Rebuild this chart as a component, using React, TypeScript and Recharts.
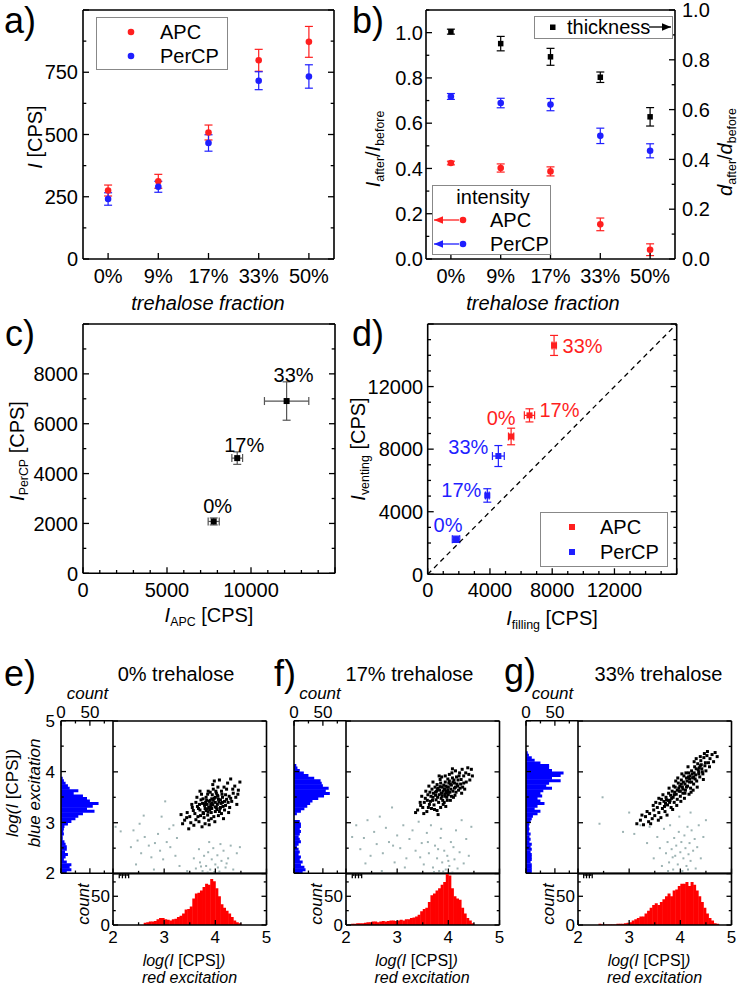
import React from 'react';
import { ScatterChart, Scatter, BarChart, Bar, XAxis, YAxis, ErrorBar } from 'recharts';

const FONT = '"Liberation Sans", Arial, Helvetica, sans-serif';
const RED = '#ff1f1f';
const BLUE = '#1f1fff';
const GREY = '#9db3b3';

// ---------- a) / b) : vs trehalose fraction ----------
const fractions = ['0%', '9%', '17%', '33%', '50%'];
const fracIdx = [0, 1, 2, 3, 4];
const apcIntensity = [275, 312, 508, 798, 872];
const apcIntensityErr = [22, 28, 30, 44, 62];
const percpIntensity = [241, 290, 466, 716, 733];
const percpIntensityErr = [25, 22, 33, 36, 47];

const apcRatio = [0.424, 0.402, 0.387, 0.153, 0.041];
const apcRatioErr = [0.008, 0.018, 0.02, 0.028, 0.026];
const percpRatio = [0.718, 0.689, 0.682, 0.544, 0.478];
const percpRatioErr = [0.013, 0.021, 0.027, 0.034, 0.031];
const thicknessRatio = [0.913, 0.865, 0.812, 0.73, 0.571];
const thicknessRatioErr = [0.01, 0.029, 0.034, 0.021, 0.037];

const aTicks = [0, 125, 250, 375, 500, 625, 750, 875, 1000];
const aMajor = [0, 250, 500, 750, 1000];
const aLabels = [0, 250, 500, 750];
const bLeftTicks = [0, 0.1, 0.2, 0.3, 0.4, 0.5, 0.6, 0.7, 0.8, 0.9, 1.0, 1.1];
const bRightTicks = [0, 0.1, 0.2, 0.3, 0.4, 0.5, 0.6, 0.7, 0.8, 0.9, 1.0];
const bLabels = [0, 0.2, 0.4, 0.6, 0.8, 1.0];

// ---------- c) / d) ----------
const cdTags = ['0%', '17%', '33%'];
const cApc = [7780, 9180, 12120];
const cApcErr = [330, 320, 1320];
const cPercp = [2080, 4620, 6910];
const cPercpErr = [140, 250, 770];
const cXTicks = [0, 1000, 2000, 3000, 4000, 5000, 6000, 7000, 8000, 9000, 10000, 11000, 12000, 13000, 14000, 15000];
const cXLabels = [0, 5000, 10000];
const cXMajor = [0, 5000, 10000, 15000];
const cYTicks = [0, 1000, 2000, 3000, 4000, 5000, 6000, 7000, 8000, 9000, 10000];
const cYLabels = [0, 2000, 4000, 6000, 8000];
const cYMajor = [0, 2000, 4000, 6000, 8000, 10000];

const dApcFill = [5360, 6540, 8120];
const dApcFillErr = [170, 330, 130];
const dApcVent = [8810, 10160, 14630];
const dApcVentErr = [530, 420, 640];
const dPercpFill = [1820, 3830, 4540];
const dPercpFillErr = [240, 120, 380];
const dPercpVent = [2240, 5040, 7560];
const dPercpVentErr = [200, 430, 670];
const identity = [0, 16000];
const dTicks = [0, 1000, 2000, 3000, 4000, 5000, 6000, 7000, 8000, 9000, 10000, 11000, 12000, 13000, 14000, 15000, 16000];
const dLabels = [0, 4000, 8000, 12000];
const dMajor = [0, 4000, 8000, 12000, 16000];

// ---------- e) f) g) : histograms (bins of 0.05 from 2.0) and scatter ----------
const BIN_LO = 2.0;
const BIN_W = 0.05;
const logTicks = [2, 2.5, 3, 3.5, 4, 4.5, 5];
const logLabels = [2, 3, 4, 5];
const countTicks = [0, 25, 50, 75];
const countLabels = [0, 50];

const eBlue = [10, 18, 15, 18, 10, 5, 8, 12, 7, 10, 10, 8, 6, 3, 3, 5, 4, 5, 6, 12, 18, 25, 30, 38, 58, 45, 55, 65, 50, 45, 38, 22, 30, 15, 12, 8, 5, 3];
const eRed = [0, 0, 0, 0, 0, 0, 0, 0, 0, 0, 0, 0, 4, 5, 6, 6, 7, 10, 12, 12, 10, 9, 8, 10, 11, 14, 16, 20, 27, 28, 32, 46, 55, 56, 60, 66, 72, 70, 80, 76, 64, 50, 36, 30, 25, 20, 14, 8, 5, 3];
const fBlue = [15, 20, 18, 12, 15, 10, 12, 8, 10, 8, 5, 8, 12, 10, 8, 10, 12, 10, 12, 12, 10, 0, 0, 5, 12, 18, 23, 28, 32, 42, 52, 62, 55, 60, 50, 48, 46, 35, 25, 17, 10, 6, 4];
const fRed = [0, 0, 2, 2, 3, 3, 3, 4, 5, 5, 6, 6, 5, 6, 7, 6, 7, 8, 8, 7, 8, 9, 8, 10, 10, 12, 13, 15, 18, 24, 28, 30, 40, 52, 55, 60, 64, 70, 75, 90, 86, 64, 50, 46, 44, 30, 20, 12, 8, 3];
const gBlue = [10, 10, 10, 10, 8, 10, 10, 10, 8, 10, 8, 10, 6, 8, 6, 8, 5, 6, 5, 6, 8, 10, 12, 20, 25, 15, 20, 32, 25, 20, 28, 25, 30, 45, 35, 40, 60, 45, 60, 65, 45, 40, 40, 25, 15, 10, 5, 3];
const gRed = [0, 0, 0, 0, 0, 0, 0, 0, 2, 1, 1, 1, 1, 1, 1, 2, 2, 2, 3, 4, 5, 8, 10, 12, 15, 15, 20, 25, 30, 35, 38, 35, 40, 45, 50, 55, 50, 60, 62, 68, 72, 72, 75, 68, 75, 70, 60, 50, 40, 30, 20, 12, 8, 3, 2];

// flat x,y pairs (log red, log blue)
const eCloud = [
  3.95, 3.35, 3.88, 3.42, 4.02, 3.3, 3.8, 3.28, 4.1, 3.45, 3.92, 3.2, 4.05, 3.52, 3.75, 3.38, 4.15, 3.32, 3.98, 3.48,
  3.85, 3.15, 4.2, 3.55, 3.7, 3.25, 3.9, 3.6, 4.08, 3.22, 3.82, 3.5, 4.25, 3.4, 3.65, 3.32, 4.0, 3.4, 3.93, 3.28,
  3.78, 3.1, 4.12, 3.62, 3.6, 3.18, 4.3, 3.48, 3.87, 3.05, 4.18, 3.25, 3.72, 3.45, 4.05, 3.7, 3.55, 3.3, 4.35, 3.58,
  3.97, 3.12, 3.84, 3.36, 4.11, 3.38, 3.76, 3.2, 4.22, 3.66, 3.68, 3.02, 4.02, 3.58, 3.9, 3.44, 3.62, 3.4, 4.28, 3.3,
  3.5, 3.12, 4.4, 3.5, 3.95, 3.75, 3.8, 2.98, 4.14, 3.5, 3.58, 2.95, 4.45, 3.64, 3.45, 3.2, 3.99, 3.02, 4.24, 3.78,
  3.73, 3.56, 4.06, 3.14, 3.86, 3.62, 4.32, 3.42, 3.66, 3.12, 3.94, 3.55, 4.18, 3.42, 3.79, 3.34, 4.04, 3.36, 3.89, 3.26,
  3.4, 3.05, 4.38, 3.72, 3.7, 3.62, 4.08, 3.84, 3.52, 3.0, 4.26, 3.2, 3.96, 3.66, 3.83, 3.44, 4.16, 3.08, 3.64, 3.5,
  3.48, 2.88, 4.42, 3.36, 3.91, 3.32, 3.77, 3.18, 4.09, 3.28, 3.36, 2.98, 4.48, 3.8, 4.0, 3.22, 3.74, 2.92, 4.2, 3.34,
  3.81, 3.4, 3.96, 3.44, 4.03, 3.26, 3.87, 3.3, 4.13, 3.56, 3.69, 3.36, 4.27, 3.52, 3.57, 3.24, 4.01, 3.62, 3.92, 3.08,
  4.34, 3.66, 3.62, 3.06, 4.1, 3.3, 3.85, 3.56, 4.22, 3.46, 3.44, 3.1, 4.44, 3.56, 3.98, 3.82, 3.71, 3.14, 4.06, 3.46,
  3.54, 3.36, 4.3, 3.86, 3.33, 3.16, 4.17, 3.7, 3.88, 2.96, 4.0, 3.5, 3.82, 3.24, 4.12, 3.18, 3.94, 3.38, 3.67, 3.28,
  3.91, 3.37, 4.07, 3.41, 3.84, 3.27, 4.0, 3.31, 3.76, 3.47, 4.14, 3.4, 3.93, 3.47, 3.86, 3.21, 4.04, 3.54, 3.8, 3.36,
];
const eStray = [
  2.05, 2.92, 2.15, 2.83, 2.35, 2.52, 2.48, 2.65, 2.55, 2.4, 2.62, 2.72, 2.7, 2.55, 2.75, 2.32, 2.82, 2.6, 2.88, 2.78,
  2.92, 2.45, 2.98, 2.28, 3.05, 2.62, 3.1, 2.88, 3.12, 2.52, 3.18, 2.95, 3.22, 2.35, 3.02, 3.42, 2.6, 3.14, 3.25, 2.7,
  2.45, 2.18, 2.8, 2.08, 3.3, 2.15, 3.45, 2.05, 3.62, 2.1, 3.7, 2.22, 3.75, 2.05, 3.78, 2.35, 3.82, 2.15, 3.86, 2.42,
  3.9, 2.08, 3.93, 2.28, 3.96, 2.5, 4.0, 2.18, 4.04, 2.36, 4.08, 2.04, 4.12, 2.25, 4.16, 2.45, 4.2, 2.12, 4.25, 2.3,
  4.3, 2.55, 4.35, 2.08, 4.42, 2.4, 4.48, 2.52, 3.88, 2.62, 4.1, 2.58, 3.68, 2.48, 3.58, 2.3, 2.95, 3.12, 3.85, 2.02,
  4.05, 2.12, 3.98, 2.03, 4.22, 2.2, 3.72, 2.14, 2.4, 2.85, 2.52, 2.98,
];
const fCloud = [
  3.9, 3.62, 3.98, 3.7, 3.82, 3.55, 4.05, 3.66, 3.75, 3.6, 4.12, 3.78, 3.86, 3.48, 3.94, 3.8, 4.0, 3.55, 3.7, 3.5,
  4.18, 3.72, 3.8, 3.68, 4.08, 3.88, 3.65, 3.42, 4.25, 3.85, 3.92, 3.4, 3.78, 3.75, 4.15, 3.6, 3.6, 3.55, 4.02, 3.95,
  3.88, 3.7, 4.3, 3.92, 3.72, 3.35, 4.1, 3.5, 3.55, 3.48, 3.96, 3.58, 4.22, 3.98, 3.84, 3.85, 3.68, 3.66, 4.06, 3.74,
  3.5, 3.3, 4.35, 3.8, 3.95, 3.32, 3.76, 3.45, 4.2, 3.64, 3.62, 3.72, 4.14, 4.02, 3.87, 3.58, 3.99, 3.86, 3.73, 3.26,
  4.4, 3.95, 3.45, 3.4, 4.28, 3.7, 3.58, 3.22, 4.04, 3.44, 3.82, 3.92, 4.16, 3.9, 3.66, 3.52, 3.93, 3.66, 4.09, 3.62,
  3.4, 3.25, 4.45, 4.05, 3.79, 3.5, 4.24, 3.76, 3.56, 3.62, 4.01, 3.78, 3.89, 3.44, 4.32, 3.66, 3.7, 3.8, 3.97, 3.5,
  3.52, 3.18, 4.38, 4.08, 3.85, 3.3, 4.12, 3.68, 3.63, 3.36, 4.07, 3.98, 3.77, 3.62, 4.26, 3.58, 3.91, 3.74, 3.83, 3.64,
  3.46, 3.34, 4.42, 3.84, 3.67, 3.28, 4.19, 3.84, 3.94, 3.92, 3.74, 3.7, 4.03, 3.6, 3.59, 3.44, 4.13, 3.54, 3.88, 3.52,
  3.36, 3.2, 4.34, 3.98, 3.81, 3.4, 4.0, 3.7, 3.96, 3.62, 4.21, 3.92, 3.71, 3.58, 3.85, 3.78, 4.11, 3.84, 3.64, 3.6,
  3.53, 3.4, 4.47, 3.92, 3.78, 3.24, 4.27, 4.05, 3.93, 3.56, 4.06, 3.52, 3.61, 3.3, 4.17, 3.76, 3.87, 3.9, 3.98, 3.44,
  3.48, 3.52, 4.3, 3.78, 3.69, 3.44, 4.08, 4.06, 3.8, 3.16, 4.23, 3.68, 3.95, 3.72, 3.75, 3.54, 4.02, 3.82, 3.9, 3.36,
  3.92, 3.66, 4.04, 3.76, 3.86, 3.58, 3.99, 3.64, 4.14, 3.7, 3.79, 3.66, 3.94, 3.52, 4.09, 3.8, 3.84, 3.71, 4.0, 3.6,
];
const fStray = [
  2.12, 2.72, 2.2, 2.95, 2.28, 2.48, 2.35, 2.7, 2.42, 3.05, 2.48, 2.35, 2.55, 2.82, 2.6, 2.58, 2.66, 3.12, 2.72, 2.4,
  2.78, 2.9, 2.84, 2.62, 2.9, 3.3, 2.95, 2.22, 3.0, 2.75, 3.06, 2.5, 3.12, 2.95, 3.18, 2.3, 3.24, 2.68, 3.3, 2.85,
  3.36, 2.45, 3.42, 3.02, 3.48, 2.6, 3.52, 2.18, 3.58, 2.8, 3.62, 2.4, 3.66, 2.95, 3.7, 2.12, 3.74, 2.55, 3.78, 2.3,
  3.82, 2.05, 3.85, 2.7, 3.88, 2.22, 3.92, 2.45, 3.95, 2.08, 3.98, 2.35, 4.02, 2.15, 4.05, 2.62, 4.08, 2.02, 4.12, 2.28,
  4.15, 2.85, 4.18, 2.1, 4.22, 2.42, 4.26, 3.05, 4.3, 2.2, 4.35, 2.68, 4.4, 2.35, 4.45, 2.92, 3.8, 2.48, 3.9, 2.04,
  4.0, 2.25, 3.72, 2.03, 3.6, 2.62, 2.92, 2.55, 2.38, 2.2, 3.15, 2.12, 2.7, 2.05, 4.1, 2.52, 3.86, 2.88, 3.45, 2.32,
];
const gCloud = [
  3.15, 2.98, 3.22, 3.05, 3.28, 2.96, 3.32, 3.12, 3.38, 3.02, 3.4, 3.18, 3.45, 3.08, 3.48, 3.25, 3.5, 3.14, 3.55, 3.3,
  3.58, 3.2, 3.6, 3.38, 3.62, 3.1, 3.65, 3.28, 3.68, 3.42, 3.7, 3.22, 3.72, 3.5, 3.75, 3.35, 3.77, 3.58, 3.8, 3.44,
  3.82, 3.3, 3.84, 3.62, 3.86, 3.5, 3.88, 3.4, 3.9, 3.7, 3.92, 3.56, 3.94, 3.46, 3.96, 3.78, 3.98, 3.62, 4.0, 3.52,
  4.02, 3.84, 4.04, 3.7, 4.05, 3.58, 4.07, 3.92, 4.09, 3.76, 4.1, 3.64, 4.12, 3.88, 4.14, 3.72, 4.16, 3.98, 4.18, 3.8,
  4.2, 3.68, 4.22, 4.02, 4.24, 3.88, 4.26, 3.76, 4.28, 4.1, 4.3, 3.94, 4.32, 3.82, 4.34, 4.16, 4.36, 4.0, 4.38, 3.9,
  4.4, 4.22, 4.42, 4.06, 4.44, 3.96, 4.46, 4.28, 4.48, 4.12, 4.5, 4.02, 4.52, 4.32, 4.55, 4.18, 4.58, 4.26, 4.62, 4.34,
  4.65, 4.2, 4.68, 4.38, 4.72, 4.3, 3.35, 3.22, 3.52, 3.4, 3.66, 3.55, 3.74, 3.15, 3.87, 3.72, 3.93, 3.34, 4.03, 3.96,
  4.08, 3.48, 4.15, 4.1, 4.21, 3.6, 4.27, 4.2, 4.33, 3.7, 4.39, 4.3, 4.45, 3.85, 4.53, 4.4, 3.25, 3.15, 3.42, 2.98,
  3.57, 3.05, 3.78, 3.68, 3.95, 3.88, 4.11, 3.98, 4.25, 3.64, 4.37, 4.08, 4.49, 4.18, 3.63, 3.46, 3.81, 3.54, 3.99, 3.72,
  4.13, 3.82, 4.29, 3.86, 4.41, 4.14, 3.71, 3.38, 3.89, 3.6, 4.06, 3.8, 4.19, 3.92, 4.35, 4.04, 4.57, 4.1, 3.47, 3.34,
  3.85, 3.26, 4.01, 3.42, 4.17, 3.56, 4.31, 4.26, 4.47, 4.36, 3.58, 3.48, 3.76, 3.44, 3.91, 3.82, 4.23, 3.96, 4.43, 4.0,
  3.97, 3.68, 4.09, 3.58, 4.02, 3.76, 3.83, 3.48, 4.18, 3.86, 4.36, 3.96, 3.69, 3.32, 4.26, 3.9, 4.12, 3.7, 3.94, 3.64,
  4.22, 3.8, 4.05, 3.66, 4.31, 4.06, 3.88, 3.55, 4.16, 3.9, 3.79, 3.4, 4.39, 4.12, 4.0, 3.62, 4.27, 3.98, 3.73, 3.45,
];
const gStray = [
  2.42, 2.98, 2.48, 3.5, 2.88, 2.82, 3.0, 3.2, 3.1, 2.78, 3.22, 2.95, 3.35, 2.6, 3.4, 2.92, 3.48, 2.3, 3.55, 2.72,
  3.6, 2.5, 3.64, 2.15, 3.68, 2.88, 3.72, 2.4, 3.75, 2.62, 3.78, 2.22, 3.8, 2.95, 3.83, 2.48, 3.86, 2.08, 3.88, 2.7,
  3.9, 2.35, 3.92, 2.55, 3.95, 2.18, 3.97, 2.82, 4.0, 2.42, 4.02, 2.62, 4.04, 2.05, 4.06, 2.3, 4.08, 2.75, 4.1, 2.5,
  4.12, 2.15, 4.14, 2.92, 4.16, 2.38, 4.18, 2.6, 4.2, 2.25, 4.22, 2.85, 4.25, 2.45, 4.28, 2.68, 4.3, 2.1, 4.33, 2.52,
  4.36, 2.95, 4.4, 2.3, 4.45, 2.72, 4.5, 3.05, 3.98, 3.12, 4.2, 3.2, 3.85, 2.32, 4.0, 2.02, 3.76, 2.05, 4.15, 2.08,
];

// ---------- helpers ----------
const abs = (left: number, top: number): React.CSSProperties => ({ position: 'absolute', left, top });
const AXLINE = { stroke: '#000', strokeWidth: 1.6 };
// axes get a 1px box (a 0 size axis is not drawn); margins below account for it
const frameX = { type: 'number' as const, height: 1, tickSize: 0, tickMargin: 0, tickLine: false, interval: 0 as const, allowDataOverflow: true, axisLine: AXLINE };
const frameY = { type: 'number' as const, width: 1, tickSize: 0, tickMargin: 0, tickLine: false, interval: 0 as const, allowDataOverflow: true, axisLine: AXLINE };
// plot box -> chart margins, with one px of every framing axis taken off
const box = (W: number, H: number, l: number, t: number, r: number, b: number) => ({ top: t - 1, left: l - 1, right: W - r - 1, bottom: H - b - 1 });

type Side = 'bottom' | 'top' | 'left' | 'right';
const INTO: Record<Side, [number, number]> = { bottom: [0, -1], top: [0, 1], left: [1, 0], right: [-1, 0] };
const has = (arr: number[], v: number) => arr.some((m) => Math.abs(m - v) < 1e-6);

interface TickCfg { side: Side; majors: number[]; labels?: number[]; fmt?: (v: number) => string; fs?: number; off?: number; len?: number }
const tickFn = (c: TickCfg) => (p: any) => {
  const { x, y, payload } = p;
  const v = Number(payload.value);
  const big = has(c.majors, v);
  const L = (c.len ?? 6) * (big ? 1 : 0.55);
  const [dx, dy] = INTO[c.side];
  const fs = c.fs ?? 20;
  const off = c.off ?? 5;
  const lab = c.labels && has(c.labels, v) ? (c.fmt ? c.fmt(v) : String(v)) : null;
  const tp = { fontFamily: FONT, fontSize: fs, fill: '#000' };
  let t = null;
  if (lab !== null) {
    if (c.side === 'bottom') t = <text x={x} y={y + off + fs * 0.74} textAnchor="middle" {...tp}>{lab}</text>;
    else if (c.side === 'top') t = <text x={x} y={y - off} textAnchor="middle" {...tp}>{lab}</text>;
    else if (c.side === 'left') t = <text x={x - off} y={y + fs * 0.36} textAnchor="end" {...tp}>{lab}</text>;
    else t = <text x={x + off} y={y + fs * 0.36} textAnchor="start" {...tp}>{lab}</text>;
  }
  return (
    <g>
      {L > 0 && <line x1={x} y1={y} x2={x + dx * L} y2={y + dy * L} stroke="#000" strokeWidth={1.3} />}
      {t}
    </g>
  );
};

const dot = (fill: string, r = 3.3) => (p: any) => <circle cx={p.cx} cy={p.cy} r={r} fill={fill} />;
const sq = (fill: string, s = 6) => (p: any) => <rect x={p.cx - s / 2} y={p.cy - s / 2} width={s} height={s} fill={fill} />;
const sqTagged = (fill: string, pos: number[][]) => (p: any) => {
  const k = p.payload.k;
  return (
    <g>
      <rect x={p.cx - 3} y={p.cy - 3} width={6} height={6} fill={fill} />
      <text x={p.cx + pos[k][0]} y={p.cy + pos[k][1]} textAnchor="middle" dominantBaseline="central" fontFamily={FONT} fontSize={20} fill={fill}>{cdTags[k]}</text>
    </g>
  );
};

function Txt({ x, y, size = 20, italic = false, rotate = false, color = '#000', children }: any) {
  return (
    <div style={{ position: 'absolute', left: x, top: y, transform: `translate(-50%,-50%)${rotate ? ' rotate(-90deg)' : ''}`, fontSize: size, fontStyle: italic ? 'italic' : 'normal', color, whiteSpace: 'nowrap', lineHeight: 1, fontFamily: FONT }}>
      {children}
    </div>
  );
}
const Sub = ({ children }: any) => <span style={{ fontSize: '0.62em', verticalAlign: '-0.35em', fontStyle: 'normal' }}>{children}</span>;

const ErrRed = { stroke: RED, strokeWidth: 1.2, width: 4 };
const ErrBlue = { stroke: BLUE, strokeWidth: 1.2, width: 4 };
const ErrBlack = { stroke: '#000', strokeWidth: 1.2, width: 4 };

// ---------- panels ----------
function PanelA() {
  const apc = fracIdx.map((i) => ({ i, v: apcIntensity[i], e: apcIntensityErr[i] }));
  const per = fracIdx.map((i) => ({ i, v: percpIntensity[i], e: percpIntensityErr[i] }));
  return (
    <div style={abs(0, 0)}>
      <ScatterChart width={370} height={330} margin={box(370, 330, 83, 10, 334, 259)}>
        <XAxis xAxisId="b" dataKey="i" {...frameX} domain={[-0.5, 4.5]} ticks={fracIdx} tick={tickFn({ side: 'bottom', majors: fracIdx, labels: fracIdx, fmt: (v) => fractions[v], off: 9 })} />
        <XAxis xAxisId="t" orientation="top" {...frameX} domain={[-0.5, 4.5]} ticks={fracIdx} tick={tickFn({ side: 'top', majors: fracIdx })} />
        <YAxis yAxisId="l" dataKey="v" {...frameY} domain={[0, 1000]} ticks={aTicks} tick={tickFn({ side: 'left', majors: aMajor, labels: aLabels, off: 5 })} />
        <YAxis yAxisId="r" orientation="right" {...frameY} domain={[0, 1000]} ticks={aTicks} tick={tickFn({ side: 'right', majors: aMajor })} />
        <Scatter xAxisId="b" yAxisId="l" data={apc} shape={dot(RED)} isAnimationActive={false}>
          <ErrorBar dataKey="e" direction="y" {...ErrRed} />
        </Scatter>
        <Scatter xAxisId="b" yAxisId="l" data={per} shape={dot(BLUE)} isAnimationActive={false}>
          <ErrorBar dataKey="e" direction="y" {...ErrBlue} />
        </Scatter>
      </ScatterChart>
      <div style={{ position: 'absolute', left: 96, top: 17, width: 132, height: 53, border: '1px solid #888', boxSizing: 'border-box' }} />
      <svg style={{ position: 'absolute', left: 0, top: 0 }} width={370} height={80}>
        <circle cx={131} cy={32} r={3.3} fill={RED} />
        <circle cx={131} cy={56} r={3.3} fill={BLUE} />
      </svg>
      <div style={{ position: 'absolute', left: 160, top: 22, fontSize: 20, lineHeight: '20px' }}>APC</div>
      <div style={{ position: 'absolute', left: 160, top: 46, fontSize: 20, lineHeight: '20px' }}>PerCP</div>
      <Txt x={20} y={21} size={36}>a)</Txt>
      <Txt x={35} y={137} rotate><i>I</i> [CPS]</Txt>
      <Txt x={208} y={303} italic>trehalose fraction</Txt>
    </div>
  );
}

function PanelB() {
  const apc = fracIdx.map((i) => ({ i, v: apcRatio[i], e: apcRatioErr[i] }));
  const per = fracIdx.map((i) => ({ i, v: percpRatio[i], e: percpRatioErr[i] }));
  const thk = fracIdx.map((i) => ({ i, v: thicknessRatio[i], e: thicknessRatioErr[i] }));
  const f1 = (v: number) => v.toFixed(1);
  return (
    <div style={abs(360, 0)}>
      <ScatterChart width={378} height={330} margin={box(378, 330, 66, 10, 315, 259)}>
        <XAxis xAxisId="b" dataKey="i" {...frameX} domain={[-0.5, 4.5]} ticks={fracIdx} tick={tickFn({ side: 'bottom', majors: fracIdx, labels: fracIdx, fmt: (v) => fractions[v], off: 9 })} />
        <XAxis xAxisId="t" orientation="top" {...frameX} domain={[-0.5, 4.5]} ticks={fracIdx} tick={tickFn({ side: 'top', majors: fracIdx })} />
        <YAxis yAxisId="l" dataKey="v" {...frameY} domain={[0, 1.1]} ticks={bLeftTicks} tick={tickFn({ side: 'left', majors: bLabels, labels: bLabels, fmt: f1, off: 3 })} />
        <YAxis yAxisId="r" dataKey="v" orientation="right" {...frameY} domain={[0, 1.0]} ticks={bRightTicks} tick={tickFn({ side: 'right', majors: bLabels, labels: bLabels, fmt: f1, off: 7 })} />
        <Scatter xAxisId="b" yAxisId="r" data={thk} shape={sq('#000', 5.5)} isAnimationActive={false}>
          <ErrorBar dataKey="e" direction="y" {...ErrBlack} />
        </Scatter>
        <Scatter xAxisId="b" yAxisId="l" data={per} shape={dot(BLUE)} isAnimationActive={false}>
          <ErrorBar dataKey="e" direction="y" {...ErrBlue} />
        </Scatter>
        <Scatter xAxisId="b" yAxisId="l" data={apc} shape={dot(RED)} isAnimationActive={false}>
          <ErrorBar dataKey="e" direction="y" {...ErrRed} />
        </Scatter>
      </ScatterChart>
      <div style={{ position: 'absolute', left: 174, top: 16, width: 139, height: 23, border: '1px solid #888', boxSizing: 'border-box', background: '#fff' }} />
      <div style={{ position: 'absolute', left: 72, top: 185, width: 119, height: 70, border: '1px solid #888', boxSizing: 'border-box', background: '#fff' }} />
      <svg style={{ position: 'absolute', left: 0, top: 0 }} width={378} height={330}>
        <defs>
          <marker id="ahK" markerWidth="8" markerHeight="8" refX="7" refY="4" orient="auto"><path d="M0,1 L7,4 L0,7 Z" fill="#000" /></marker>
          <marker id="ahR" markerWidth="8" markerHeight="8" refX="7" refY="4" orient="auto"><path d="M0,1 L7,4 L0,7 Z" fill={RED} /></marker>
          <marker id="ahB" markerWidth="8" markerHeight="8" refX="7" refY="4" orient="auto"><path d="M0,1 L7,4 L0,7 Z" fill={BLUE} /></marker>
        </defs>
        <rect x={190} y={24.5} width={5.5} height={5.5} fill="#000" />
        <line x1={289} y1={27} x2={311} y2={27} stroke="#000" strokeWidth={1.3} markerEnd="url(#ahK)" />
        <line x1={99} y1={220} x2={74} y2={220} stroke={RED} strokeWidth={1.3} markerEnd="url(#ahR)" />
        <circle cx={103} cy={220} r={3.3} fill={RED} />
        <line x1={99} y1={244} x2={74} y2={244} stroke={BLUE} strokeWidth={1.3} markerEnd="url(#ahB)" />
        <circle cx={103} cy={244} r={3.3} fill={BLUE} />
      </svg>
      <div style={{ position: 'absolute', left: 207, top: 17, fontSize: 20, lineHeight: '20px' }}>thickness</div>
      <Txt x={133} y={197}>intensity</Txt>
      <div style={{ position: 'absolute', left: 130, top: 210, fontSize: 20, lineHeight: '20px' }}>APC</div>
      <div style={{ position: 'absolute', left: 130, top: 234, fontSize: 20, lineHeight: '20px' }}>PerCP</div>
      <Txt x={8} y={21} size={36}>b)</Txt>
      <Txt x={15} y={149} rotate><i>I</i><Sub>after</Sub>/<i>I</i><Sub>before</Sub></Txt>
      <Txt x={367} y={152} rotate><i>d</i><Sub>after</Sub>/<i>d</i><Sub>before</Sub></Txt>
      <Txt x={183} y={303} italic>trehalose fraction</Txt>
    </div>
  );
}

function PanelC() {
  const pts = [0, 1, 2].map((k) => ({ k, x: cApc[k], y: cPercp[k], ex: cApcErr[k], ey: cPercpErr[k] }));
  const tagPos = [[4, -15], [7, -13], [7, -26]];
  return (
    <div style={abs(0, 312)}>
      <ScatterChart width={370} height={348} margin={box(370, 348, 83, 12, 335, 261.3)}>
        <XAxis xAxisId="b" dataKey="x" {...frameX} domain={[0, 15000]} ticks={cXTicks} tick={tickFn({ side: 'bottom', majors: cXMajor, labels: cXLabels, off: 9 })} />
        <XAxis xAxisId="t" orientation="top" {...frameX} domain={[0, 15000]} ticks={cXTicks} tick={tickFn({ side: 'top', majors: cXMajor })} />
        <YAxis yAxisId="l" dataKey="y" {...frameY} domain={[0, 10000]} ticks={cYTicks} tick={tickFn({ side: 'left', majors: cYMajor, labels: cYLabels, off: 5 })} />
        <YAxis yAxisId="r" orientation="right" {...frameY} domain={[0, 10000]} ticks={cYTicks} tick={tickFn({ side: 'right', majors: cYMajor })} />
        <Scatter xAxisId="b" yAxisId="l" data={pts} shape={sqTagged('#000', tagPos)} isAnimationActive={false}>
          <ErrorBar dataKey="ex" direction="x" stroke="#555" strokeWidth={1.2} width={4} />
          <ErrorBar dataKey="ey" direction="y" stroke="#555" strokeWidth={1.2} width={4} />
        </Scatter>
      </ScatterChart>
      <Txt x={20} y={22} size={36}>c)</Txt>
      <Txt x={19} y={139} rotate><i>I</i><Sub>PerCP</Sub> [CPS]</Txt>
      <Txt x={209} y={305}><i>I</i><Sub>APC</Sub> [CPS]</Txt>
    </div>
  );
}

function PanelD() {
  const apc = [0, 1, 2].map((k) => ({ k, x: dApcFill[k], y: dApcVent[k], ex: dApcFillErr[k], ey: dApcVentErr[k] }));
  const per = [0, 1, 2].map((k) => ({ k, x: dPercpFill[k], y: dPercpVent[k], ex: dPercpFillErr[k], ey: dPercpVentErr[k] }));
  const diag = identity.map((v) => ({ x: v, y: v }));
  const apcPos = [[-10, -18], [30, -5], [28.5, 1]];
  const perPos = [[-8, -14], [-26, -5], [-30, -9]];
  return (
    <div style={abs(360, 312)}>
      <ScatterChart width={378} height={348} margin={box(378, 348, 67.7, 12, 316.7, 262.3)}>
        <XAxis xAxisId="b" dataKey="x" {...frameX} domain={[0, 16000]} ticks={dTicks} tick={tickFn({ side: 'bottom', majors: dMajor, labels: dLabels, off: 7.5 })} />
        <XAxis xAxisId="t" orientation="top" {...frameX} domain={[0, 16000]} ticks={dTicks} tick={tickFn({ side: 'top', majors: dMajor })} />
        <YAxis yAxisId="l" dataKey="y" {...frameY} domain={[0, 16000]} ticks={dTicks} tick={tickFn({ side: 'left', majors: dMajor, labels: dLabels, off: 4.5 })} />
        <YAxis yAxisId="r" orientation="right" {...frameY} domain={[0, 16000]} ticks={dTicks} tick={tickFn({ side: 'right', majors: dMajor })} />
        <Scatter xAxisId="b" yAxisId="l" data={diag} line={{ stroke: '#000', strokeWidth: 1.3, strokeDasharray: '5 4' }} shape={() => <g />} isAnimationActive={false} />
        <Scatter xAxisId="b" yAxisId="l" data={apc} shape={sqTagged(RED, apcPos)} isAnimationActive={false}>
          <ErrorBar dataKey="ex" direction="x" {...ErrRed} />
          <ErrorBar dataKey="ey" direction="y" {...ErrRed} />
        </Scatter>
        <Scatter xAxisId="b" yAxisId="l" data={per} shape={sqTagged(BLUE, perPos)} isAnimationActive={false}>
          <ErrorBar dataKey="ex" direction="x" {...ErrBlue} />
          <ErrorBar dataKey="ey" direction="y" {...ErrBlue} />
        </Scatter>
      </ScatterChart>
      <div style={{ position: 'absolute', left: 180, top: 200, width: 128, height: 55, border: '1px solid #888', boxSizing: 'border-box', background: '#fff' }} />
      <svg style={{ position: 'absolute', left: 0, top: 0 }} width={378} height={348}>
        <rect x={209} y={212} width={6} height={6} fill={RED} />
        <rect x={209} y={237} width={6} height={6} fill={BLUE} />
      </svg>
      <div style={{ position: 'absolute', left: 240, top: 205, fontSize: 20, lineHeight: '20px' }}>APC</div>
      <div style={{ position: 'absolute', left: 240, top: 230, fontSize: 20, lineHeight: '20px' }}>PerCP</div>
      <Txt x={8} y={22} size={36}>d)</Txt>
      <Txt x={0} y={137} rotate><i>I</i><Sub>venting</Sub> [CPS]</Txt>
      <Txt x={192} y={308}><i>I</i><Sub>filling</Sub> [CPS]</Txt>
    </div>
  );
}

const hist = (counts: number[]) => counts.map((n, i) => ({ c: BIN_LO + (i + 0.5) * BIN_W, n }));
const pairs = (flat: number[]) => {
  const out: { x: number; y: number }[] = [];
  for (let i = 0; i < flat.length; i += 2) out.push({ x: flat[i], y: flat[i + 1] });
  return out;
};

function Dist({ ox, blue, red, cloud, stray, showY }: any) {
  return (
    <>
      {/* blue excitation histogram (left, horizontal) */}
      <div style={abs(ox, 690)}>
        <BarChart layout="vertical" width={113} height={200} data={hist(blue)} margin={{ top: 29.7, right: 0, bottom: 15.7, left: 60 }} barCategoryGap={0} barGap={0}>
          <XAxis xAxisId="t" orientation="top" {...frameX} domain={[0, 90]} ticks={countTicks} tick={tickFn({ side: 'top', majors: countLabels, labels: countLabels, fs: 17, off: 3, len: 5 })} />
          <XAxis xAxisId="b" {...frameX} domain={[0, 90]} ticks={countTicks} tick={tickFn({ side: 'bottom', majors: countLabels, len: 5 })} />
          <YAxis yAxisId="l" dataKey="c" reversed {...frameY} domain={[2, 5]} ticks={logTicks} tick={tickFn({ side: 'left', majors: logLabels, labels: showY ? logLabels : [], fs: 17, off: 6, len: 5 })} />
          <Bar xAxisId="t" yAxisId="l" dataKey="n" fill="#0000ff" isAnimationActive={false} />
        </BarChart>
      </div>
      {/* 2D scatter */}
      <div style={abs(ox + 111, 718.7)}>
        <ScatterChart width={157.5} height={156.6} margin={{ top: 1, right: 1, bottom: 1, left: 1 }}>
          <XAxis xAxisId="b" dataKey="x" {...frameX} domain={[2, 5]} ticks={logTicks} tick={tickFn({ side: 'bottom', majors: logLabels, len: 5 })} />
          <XAxis xAxisId="t" orientation="top" {...frameX} domain={[2, 5]} ticks={logTicks} tick={tickFn({ side: 'top', majors: logLabels, len: 5 })} />
          <YAxis yAxisId="l" dataKey="y" {...frameY} domain={[2, 5]} ticks={logTicks} tick={tickFn({ side: 'left', majors: logLabels, len: 5 })} />
          <YAxis yAxisId="r" orientation="right" {...frameY} domain={[2, 5]} ticks={logTicks} tick={tickFn({ side: 'right', majors: logLabels, len: 5 })} />
          <Scatter xAxisId="b" yAxisId="l" data={pairs(stray)} shape={sq(GREY, 2)} isAnimationActive={false} />
          <Scatter xAxisId="b" yAxisId="l" data={pairs(cloud)} shape={sq('#000', 3)} isAnimationActive={false} />
        </ScatterChart>
      </div>
      {/* red excitation histogram (bottom) */}
      <div style={abs(ox + 83, 860)}>
        <BarChart width={188} height={90} data={hist(red)} margin={box(188, 90, 30, 13.3, 183.5, 65)} barCategoryGap={0} barGap={0}>
          <XAxis xAxisId="b" dataKey="c" {...frameX} domain={[2, 5]} ticks={logTicks} tick={tickFn({ side: 'bottom', majors: logLabels, labels: logLabels, fs: 17, off: 5, len: 5 })} />
          <XAxis xAxisId="t" orientation="top" {...frameX} domain={[2, 5]} ticks={logTicks} tick={tickFn({ side: 'top', majors: logLabels, len: 5 })} />
          <YAxis yAxisId="l" {...frameY} domain={[0, 90]} ticks={countTicks} tick={tickFn({ side: 'left', majors: countLabels, labels: countLabels, fs: 17, off: 3, len: 5 })} />
          <YAxis yAxisId="r" orientation="right" {...frameY} domain={[0, 90]} ticks={countTicks} tick={tickFn({ side: 'right', majors: countLabels, len: 5 })} />
          <Bar xAxisId="b" yAxisId="l" dataKey="n" fill="#ff0000" isAnimationActive={false} />
        </BarChart>
      </div>
      <Txt x={ox + 87.5} y={693} size={17} italic>count</Txt>
      <Txt x={ox + 83} y={904} size={17} italic rotate>count</Txt>
      <Txt x={ox + 184} y={961} size={16}><i>log(I</i> [CPS]<i>)</i></Txt>
      <Txt x={ox + 189.5} y={978} size={16} italic>red excitation</Txt>
    </>
  );
}

export default function App() {
  return (
    <div style={{ position: 'relative', width: 738, height: 988, background: '#fff', fontFamily: FONT, overflow: 'hidden' }}>
      <style>{'body{margin:0}'}</style>
      <PanelA />
      <PanelB />
      <PanelC />
      <PanelD />
      <Dist ox={0} blue={eBlue} red={eRed} cloud={eCloud} stray={eStray} showY />
      <Dist ox={232.5} blue={fBlue} red={fRed} cloud={fCloud} stray={fStray} showY={false} />
      <Dist ox={465} blue={gBlue} red={gRed} cloud={gCloud} stray={gStray} showY={false} />
      <Txt x={12} y={793} size={17} rotate><i>log(I</i> [CPS]<i>)</i></Txt>
      <Txt x={34} y={793} size={17} italic rotate>blue excitation</Txt>
      <Txt x={20} y={674} size={36}>e)</Txt>
      <Txt x={285} y={674} size={36}>f)</Txt>
      <Txt x={520} y={672} size={36}>g)</Txt>
      <Txt x={176} y={674}>0% trehalose</Txt>
      <Txt x={409.5} y={674}>17% trehalose</Txt>
      <Txt x={658.5} y={674}>33% trehalose</Txt>
    </div>
  );
}
